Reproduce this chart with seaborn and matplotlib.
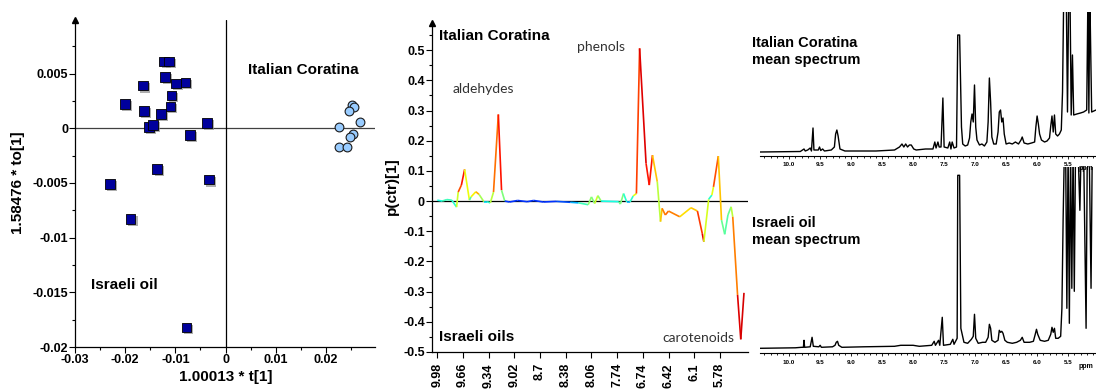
import numpy as np
import seaborn as sns
import matplotlib.pyplot as plt
import matplotlib.patheffects as pe
from matplotlib.collections import LineCollection
from matplotlib.ticker import MultipleLocator

sns.set_style("white")
plt.rcParams['font.family'] = ['Liberation Sans', 'DejaVu Sans']

# ---- OPLS-DA scores: 1.00013*t[1] vs 1.58476*to[1] ----
israeli_t = [-0.0122, -0.0113, -0.0120, -0.0164, -0.0099, -0.0080, -0.0108, -0.0200, -0.0163, -0.0110,
             -0.0128, -0.0153, -0.0144, -0.0037, -0.0071, -0.0136, -0.0033, -0.0230, -0.0189, -0.0078]
israeli_to = [0.0061, 0.0061, 0.0047, 0.0039, 0.0041, 0.0042, 0.0030, 0.0022, 0.0016, 0.0020,
              0.0013, 0.0001, 0.0003, 0.0005, -0.0006, -0.0037, -0.0047, -0.0051, -0.0083, -0.0182]
italian_t = [0.0252, 0.0256, 0.0247, 0.0269, 0.0227, 0.0254, 0.0248, 0.0227, 0.0242]
italian_to = [0.0021, 0.0019, 0.0016, 0.0006, 0.0001, -0.0005, -0.0008, -0.0017, -0.0017]

# ---- loading line p(ctr)[1] over the buckets, coloured by correlation (jet scale 0..1) ----
bucket = [0, 3, 6, 9, 12, 13, 15, 17, 20, 21, 24, 26, 29, 31, 33, 35, 38, 40, 42, 45,
          50, 56, 60, 66, 74, 83, 88, 94, 96, 98, 100, 102, 113, 114, 116, 118, 120, 122, 124, 126,
          130, 132, 134, 137, 139, 140, 142, 144, 151, 158, 162, 165, 166, 169, 171, 172, 175, 177, 179, 181,
          183, 184, 187, 189, 191]
p_ctr = [0.003, 0, 0.005, 0.003, -0.02, 0.03, 0.053, 0.105, 0.003, 0.014,
         0.031, 0.022, -0.002, -0.002, -0.006, 0.03, 0.287, 0.036, 0, -0.003,
         0.002, -0.002, 0.002, -0.003, -0.001, -0.004, -0.006, -0.012, 0.014, -0.008,
         0.018, 0, -0.002, -0.01, 0.025, -0.003, -0.003, 0.017, 0.025, 0.506,
         0.125, 0.053, 0.152, 0.064, -0.068, -0.024, -0.046, -0.033, -0.052, -0.022,
         -0.033, -0.107, -0.135, 0.006, 0.02, 0.047, 0.149, -0.063, -0.11, -0.046,
         -0.019, -0.052, -0.311, -0.458, -0.304]
p_corr = [0.35, 0.4, 0.45, 0.4, 0.4, 0.8, 0.85, 0.92, 0.35, 0.55,
          0.75, 0.7, 0.4, 0.3, 0.5, 0.65, 0.93, 0.85, 0.15, 0.2,
          0.15, 0.2, 0.15, 0.2, 0.15, 0.25, 0.35, 0.5, 0.55, 0.45,
          0.75, 0.3, 0.45, 0.5, 0.5, 0.3, 0.3, 0.5, 0.75, 0.93,
          0.9, 0.88, 0.9, 0.5, 0.65, 0.75, 0.8, 0.8, 0.75, 0.6,
          0.8, 0.9, 0.92, 0.3, 0.5, 0.75, 0.9, 0.5, 0.45, 0.45,
          0.5, 0.65, 0.9, 0.93, 0.92]
bucket_ticks = [0, 16, 32, 48, 64, 80, 96, 112, 128, 144, 160, 176]
bucket_labels = ['9.98', '9.66', '9.34', '9.02', '8.7', '8.38', '8.06', '7.74', '6.74', '6.42', '6.1', '5.78']

# ---- mean 1H NMR spectra (ppm, height) ----
ital_ppm = [10.47, 9.82, 9.76, 9.74, 9.70, 9.66, 9.64, 9.615, 9.60, 9.53,
            9.51, 9.49, 9.46, 9.43, 9.32, 9.27, 9.25, 9.23, 9.21, 9.18,
            9.10, 8.90, 8.60, 8.30, 8.22, 8.18, 8.15, 8.12, 8.09, 8.06,
            8.03, 7.99, 7.95, 7.80, 7.68, 7.65, 7.63, 7.60, 7.58, 7.55,
            7.52, 7.50, 7.44, 7.41, 7.39, 7.37, 7.34, 7.30, 7.28, 7.25,
            7.22, 7.20, 7.16, 7.12, 7.09, 7.07, 7.05, 7.03, 7.01, 6.99,
            6.97, 6.93, 6.89, 6.85, 6.81, 6.79, 6.77, 6.75, 6.73, 6.70,
            6.66, 6.63, 6.61, 6.59, 6.57, 6.55, 6.53, 6.50, 6.45, 6.40,
            6.35, 6.30, 6.26, 6.24, 6.21, 6.15, 6.09, 6.04, 6.02, 6.00,
            5.98, 5.96, 5.93, 5.88, 5.84, 5.80, 5.78, 5.76, 5.74, 5.72,
            5.70, 5.67, 5.64, 5.61, 5.59, 5.57, 5.55, 5.53, 5.51, 5.49,
            5.47, 5.45, 5.43, 5.41, 5.36, 5.30, 5.25, 5.20, 5.18, 5.165,
            5.15, 5.12, 5.05]
ital_int = [0, 0.5, 3, 1, 2, 4, 1, 24, 2, 2,
            5, 1.5, 3, 1, 2, 5, 18, 22, 16, 3,
            1, 1, 1, 2, 5, 8, 5, 8, 5, 7,
            7, 3, 2, 3, 3, 10, 4, 10, 5, 5,
            54, 5, 4, 10, 3, 10, 4, 5, 117, 117,
            25, 8, 6, 7, 14, 30, 38, 30, 67, 25,
            12, 7, 8, 6, 10, 30, 74, 50, 15, 8,
            8, 20, 40, 42, 30, 34, 18, 8, 9, 8,
            10, 8, 12, 15, 9, 8, 9, 10, 25, 36,
            28, 18, 12, 10, 11, 14, 26, 36, 20, 37,
            18, 16, 18, 22, 60, 160, 160, 160, 40, 160,
            160, 37, 97, 37, 38, 39, 40, 42, 160, 39,
            160, 40, 42]

isr_ppm = [10.47, 9.90, 9.80, 9.77, 9.76, 9.75, 9.66, 9.63, 9.61, 9.52,
           9.50, 9.48, 9.30, 9.26, 9.24, 9.22, 9.20, 9.15, 8.80, 8.30,
           8.20, 8.10, 8.00, 7.90, 7.70, 7.66, 7.64, 7.59, 7.57, 7.53,
           7.51, 7.40, 7.36, 7.34, 7.29, 7.28, 7.25, 7.23, 7.18, 7.12,
           7.06, 7.03, 7.01, 6.99, 6.95, 6.88, 6.83, 6.79, 6.77, 6.75,
           6.73, 6.68, 6.63, 6.61, 6.59, 6.57, 6.55, 6.52, 6.48, 6.40,
           6.33, 6.27, 6.24, 6.21, 6.12, 6.06, 6.03, 6.01, 5.99, 5.95,
           5.88, 5.82, 5.78, 5.76, 5.74, 5.72, 5.70, 5.66, 5.62,
           5.60, 5.58, 5.56, 5.54, 5.52, 5.50, 5.48, 5.46, 5.44, 5.42,
           5.40, 5.38, 5.34, 5.31, 5.29, 5.25, 5.21, 5.19, 5.16, 5.13,
           5.11, 5.05]
isr_int = [0, 0.5, 1, 1, 8, 1, 1.5, 11, 2, 1.5,
           3, 1, 1.5, 3, 6, 7, 3, 1, 1.5, 2,
           3, 3, 3, 2, 3, 7, 3, 8, 3, 31,
           3, 4, 9, 4, 10, 173, 173, 20, 6, 5,
           9, 12, 34, 10, 5, 6, 6, 11, 24, 20,
           8, 6, 8, 18, 16, 17, 15, 8, 6, 5,
           6, 8, 11, 6, 6, 7, 14, 19, 14, 8,
           7, 8, 14, 21, 16, 20, 10, 10, 12,
           40, 130, 200, 200, 40, 200, 25, 200, 60, 200,
           57, 200, 200, 138, 200, 200, 20, 200, 200, 60,
           200, 200]

W, H = 1096, 390


def box(x0, y0, x1, y1):
    # pixel box of the 1096x390 canvas -> figure fraction
    return [x0 / W, 1 - y1 / H, (x1 - x0) / W, (y1 - y0) / H]


def px(x, y):
    return x / W, 1 - y / H


fig = plt.figure(figsize=(10.96, 3.90), dpi=100)
bold = dict(fontweight='bold', color='black')

# ================= score plot =================
ax1 = fig.add_axes(box(75, 20, 375, 347))
ax1.axhline(0, color='0.25', lw=0.9, zorder=1)
ax1.axvline(0, color='black', lw=0.9, zorder=1)
sns.scatterplot(x=israeli_t, y=israeli_to, marker='s', s=48, color='#00009c',
                edgecolor='black', linewidth=0.6, ax=ax1, zorder=3)
ax1.collections[-1].set_path_effects([pe.SimplePatchShadow(offset=(1.5, -1.5), shadow_rgbFace='0.55', alpha=0.7),
                                      pe.Normal()])
sns.scatterplot(x=italian_t, y=italian_to, marker='o', s=40, color='#99ccff',
                edgecolor='#1a1a1a', linewidth=0.8, ax=ax1, zorder=3, clip_on=False)
ax1.set_xlim(-0.03, 0.0298)
ax1.set_ylim(-0.02, 0.0099)
ax1.set_xticks([-0.03, -0.02, -0.01, 0, 0.01, 0.02])
ax1.set_xticklabels(['-0.03', '-0.02', '-0.01', '0', '0.01', '0.02'], **bold)
ax1.set_yticks([-0.02, -0.015, -0.01, -0.005, 0, 0.005])
ax1.set_yticklabels(['-0.02', '-0.015', '-0.01', '-0.005', '0', '0.005'], **bold)
ax1.xaxis.set_minor_locator(MultipleLocator(0.005))
ax1.yaxis.set_minor_locator(MultipleLocator(0.0025))
ax1.spines[['top', 'right']].set_visible(False)
for sp in ['left', 'bottom']:
    ax1.spines[sp].set_color('black')
    ax1.spines[sp].set_linewidth(0.9)
ax1.tick_params(which='both', direction='out', bottom=True, left=True, width=0.8, colors='black',
                labelsize=9, pad=1)
ax1.tick_params(which='major', length=4)
ax1.tick_params(which='minor', length=2.5)
ax1.plot(0, 1, marker='^', color='black', ms=4, transform=ax1.transAxes, clip_on=False)
ax1.set_facecolor('none')
fig.text(*px(248, 70), 'Italian Coratina', fontsize=11, va='center', **bold)
fig.text(*px(91, 285), 'Israeli oil', fontsize=11, va='center', **bold)
fig.text(*px(226, 377), '1.00013 * t[1]', fontsize=11, ha='center', va='center', **bold)
fig.text(*px(18, 183), '1.58476 * to[1]', fontsize=11, ha='center', va='center', rotation=90, **bold)

# ================= loading line =================
ax2 = fig.add_axes(box(431.7, 23, 748, 352))
pts = np.column_stack([bucket, p_ctr])
segs = np.stack([pts[:-1], pts[1:]], axis=1)
corr = np.array(p_corr)
lc = LineCollection(segs, cmap='jet', norm=plt.Normalize(0, 1), linewidths=1.2, zorder=3)
lc.set_array((corr[:-1] + corr[1:]) / 2)
ax2.add_collection(lc)
ax2.axhline(0, color='black', lw=0.9, zorder=2)
ax2.set_xlim(-3.5, 193.5)
ax2.set_ylim(-0.5, 0.59)
ax2.set_xticks(bucket_ticks)
ax2.set_xticklabels(bucket_labels, rotation=90, **bold)
yt = [-0.5, -0.4, -0.3, -0.2, -0.1, 0, 0.1, 0.2, 0.3, 0.4, 0.5]
ax2.set_yticks(yt)
ax2.set_yticklabels(['-0.5', '-0.4', '-0.3', '-0.2', '-0.1', '0', '0.1', '0.2', '0.3', '0.4', '0.5'], **bold)
ax2.yaxis.set_minor_locator(MultipleLocator(0.05))
ax2.spines[['top', 'right']].set_visible(False)
for sp in ['left', 'bottom']:
    ax2.spines[sp].set_color('black')
    ax2.spines[sp].set_linewidth(0.9)
ax2.tick_params(which='both', direction='out', bottom=True, left=True, width=0.8, colors='black',
                labelsize=9, pad=1)
ax2.tick_params(axis='x', pad=4)
ax2.tick_params(which='major', length=4)
ax2.tick_params(which='minor', length=2.5)
ax2.plot(0, 1, marker='^', color='black', ms=4, transform=ax2.transAxes, clip_on=False)
ax2.set_facecolor('none')
fig.text(*px(439, 36), 'Italian Coratina', fontsize=11, va='center', **bold)
fig.text(*px(439, 337), 'Israeli oils', fontsize=11, va='center', **bold)
fig.text(*px(392, 186), 'p(ctr)[1]', fontsize=11, ha='center', va='center', rotation=90, **bold)
note = dict(fontsize=10, color='#333333', family=['Lato', 'DejaVu Sans'], va='center')
fig.text(*px(453, 89), 'aldehydes', **note)
fig.text(*px(577, 47), 'phenols', **note)
fig.text(*px(662, 338), 'carotenoids', **note)

# ================= mean spectra =================
ax4 = fig.add_axes(box(760, 167, 1096, 353.3))
ax3 = fig.add_axes(box(760, 12, 1096, 155.7))
for ax, ppm, inten, ylim in [(ax3, ital_ppm, ital_int, (-3.7, 140)), (ax4, isr_ppm, isr_int, (-5, 181.3))]:
    sns.lineplot(x=ppm, y=inten, sort=False, color='black', lw=1.0, ax=ax)
    ax.set_xlim(10.47, 5.05)
    ax.set_ylim(*ylim)
    ax.set_facecolor('none')
    ax.spines[['top', 'right', 'left']].set_visible(False)
    ax.spines['bottom'].set_color('black')
    ax.spines['bottom'].set_linewidth(0.8)
    ax.set_yticks([])
    ax.set_xticks([10.0, 9.5, 9.0, 8.5, 8.0, 7.5, 7.0, 6.5, 6.0, 5.5])
    ax.set_xticklabels(['10.0', '9.5', '9.0', '8.5', '8.0', '7.5', '7.0', '6.5', '6.0', '5.5'],
                       fontweight='bold', color='#333333')
    ax.xaxis.set_minor_locator(MultipleLocator(0.1))
    ax.tick_params(which='both', direction='out', bottom=True, width=0.6, colors='black',
                   labelsize=4.5, pad=2)
    ax.tick_params(which='major', length=2.5)
    ax.tick_params(which='minor', length=1.5)
    ax.set_xlabel('')
    ax.set_ylabel('')

fig.text(*px(752, 36), 'Italian Coratina\nmean spectrum', fontsize=10.5, va='top', linespacing=1.25, **bold)
fig.text(*px(752, 216), 'Israeli oil\nmean spectrum', fontsize=10.5, va='top', linespacing=1.25, **bold)
fig.text(*px(1079, 168), 'ppm', fontsize=5, va='center', **bold)
fig.text(*px(1079, 366), 'ppm', fontsize=5, va='center', **bold)

fig.savefig('out.png', dpi=100)
